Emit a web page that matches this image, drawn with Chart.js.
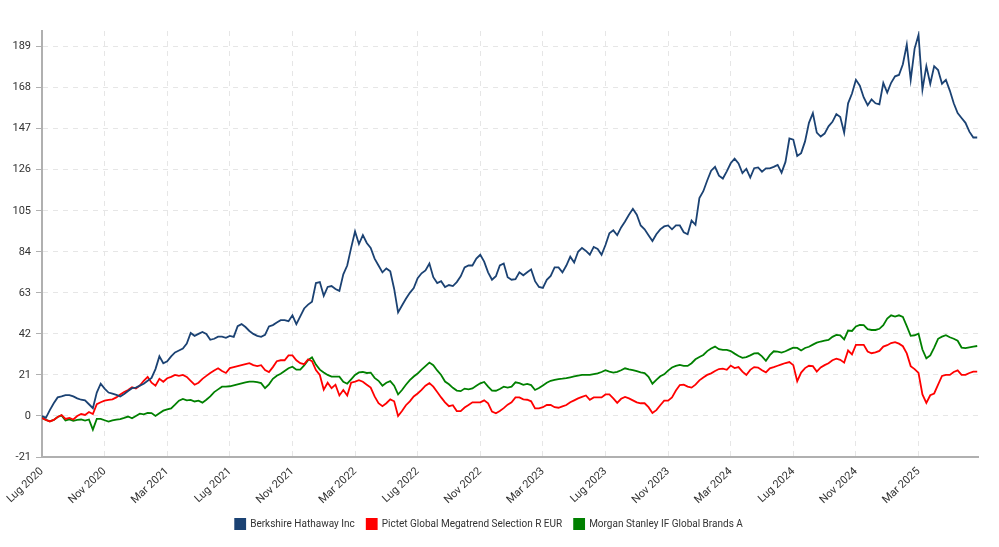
<!DOCTYPE html>
<html>
<head>
<meta charset="utf-8">
<script src="https://cdn.jsdelivr.net/npm/chart.js@4.4.1/dist/chart.umd.min.js"></script>
<style>
  html, body { margin: 0; padding: 0; background: #ffffff; }
  #wrap { width: 999px; height: 547px; position: relative; }
</style>
</head>
<body>
<div id="wrap"><canvas id="c" width="999" height="547"></canvas></div>
<script>
// Quarter-month sampling from Jul 2020 (index 0) to end of Jun 2025
const seriesNames = ['Berkshire Hathaway Inc', 'Pictet Global Megatrend Selection R EUR', 'Morgan Stanley IF Global Brands A'];
const seriesColors = ['#1b4273', '#ff0000', '#008000'];
const xTickLabels = ['Lug 2020','Nov 2020','Mar 2021','Lug 2021','Nov 2021','Mar 2022','Lug 2022','Nov 2022','Mar 2023','Lug 2023','Nov 2023','Mar 2024','Lug 2024','Nov 2024','Mar 2025'];
const yTicks = [-21, 0, 21, 42, 63, 84, 105, 126, 147, 168, 189];

const berkshire = [
  0, -1, 3, 6.5, 9.5, 10, 10.7, 10.7, 10, 9,
  8.3, 8, 6, 4, 12, 16.5, 14, 12, 11.4, 10.8,
  10, 11.2, 12.8, 14.2, 14.5, 15.5, 16.5, 18, 19.5, 24,
  30.5, 27, 28, 30.5, 32.5, 33.5, 34.5, 37, 42.5, 41,
  42, 43, 42, 39, 39.5, 40.6, 40.6, 40, 41, 40.5,
  46, 47, 45.5, 43.5, 42, 41, 40.5, 41.5, 45.8, 46.5,
  47.8, 49, 49, 48.5, 51.5, 47, 51, 55, 57, 58.5,
  68, 68.5, 61.5, 66, 66.5, 65, 64, 72.5, 77, 86,
  94.4, 88, 92.5, 88.5, 86, 80.5, 77, 73.5, 75.5, 74,
  65, 53, 56.5, 60, 63, 65.5, 70.5, 73, 74.5, 78,
  71, 68, 69, 66, 67, 66.5, 68.5, 71.5, 76, 77,
  77, 80.5, 82.5, 79, 73.5, 69.7, 71.5, 77, 78, 71,
  69.7, 70, 73.5, 72, 73.5, 75, 69, 66, 65.5, 69.7,
  71.7, 76, 76, 73.5, 77, 81.5, 78.5, 84, 86, 84.5,
  82.5, 86.5, 85.5, 82.5, 87.5, 93.5, 95, 92.5, 96.5, 99.5,
  103, 106, 103, 97.5, 95.5, 92.5, 89.5, 93, 95.5, 97,
  97.5, 95.5, 97.5, 97.5, 94, 93, 100, 97.8, 111.5, 115,
  120.5, 125.5, 127.5, 123, 121.5, 125.2, 129.3, 131.7, 129.2, 124.3,
  126.5, 122, 126.8, 127.2, 125, 126.7, 126.7, 127.5, 128.5, 124.5,
  130, 142, 141.4, 133, 134.5, 140.5, 150, 155, 145, 143,
  144.5, 148.2, 150.5, 154.5, 153, 145, 160, 165, 172, 169,
  163, 159, 162, 160, 159.5, 170.4, 165.5, 170.5, 173.8, 174.5,
  180, 190, 172, 188, 195, 167, 179, 170, 179, 177,
  170, 172, 166.5, 160, 155, 152.5, 150, 145.5, 142.5, 142.5
];
const pictet = [
  -1, -2, -2.8, -2, -0.5, 0.5, -1.5, -1, -1.8, 0,
  1, 0.5, 2, 1, 6, 7, 7.8, 8.2, 8.5, 9.5,
  11, 12.3, 13.3, 14.7, 14, 15.5, 18, 20, 17, 15.5,
  19, 17.5, 19.3, 20, 21, 20.5, 21, 20, 18, 16,
  17, 19, 20.5, 22, 23.3, 24.4, 23, 22, 24.5, 25,
  25.5, 26, 26.5, 27, 26, 25.5, 26, 23.5, 22.5, 25,
  28, 28.5, 28.5, 31, 31, 28.5, 27, 26.5, 29, 28,
  23.5, 21, 13.5, 17, 14.2, 16, 10.5, 13.3, 10.5, 17,
  17.6, 18.3, 17.5, 16, 14.5, 10, 6.5, 5, 6.5, 8.5,
  7.5, 0, 2.5, 5.5, 7.5, 10, 11.5, 13.3, 15.5, 16.8,
  15, 12.3, 9.5, 7, 5, 5.5, 2.5, 2.5, 4.3, 5.6,
  7, 7, 7, 8, 6.5, 2.2, 1.4, 2.5, 4, 5.8,
  7, 9.5, 9.5, 8.5, 8.3, 7.5, 3.9, 3.9, 4.5, 5.6,
  5.6, 4.5, 4.2, 4.9, 5.6, 7, 8, 9, 9.8, 10.5,
  8.3, 9.5, 9.5, 9.5, 11, 11, 9, 6.7, 8.8, 9.7,
  9, 8, 7, 6.5, 6.5, 4.5, 1.5, 3, 5.5, 7.8,
  7.8, 9.5, 13, 15.8, 16, 15, 14.5, 16, 18.2, 19.7,
  21, 21.8, 23, 24, 24.2, 23.6, 25.8, 24.5, 25, 22.7,
  21, 23.6, 25, 24.8, 23.4, 22.3, 24.4, 25, 25.7, 26.4,
  27.1, 27.6, 26, 17.8, 22.2, 24.5, 25.7, 25.5, 22.7, 24.8,
  26, 27, 28.5, 29.3, 28.7, 27.3, 33.5, 31.5, 36.4, 36.4,
  36.4, 33, 32.1, 32.5, 33.3, 35.5, 36.2, 37.3, 37.8, 37,
  35.7, 32, 25.5, 24, 22, 11, 6.7, 10.6, 11.5, 16,
  20.5, 21, 21, 22.5, 23.3, 21, 21, 22, 22.7, 22.7
];
const morganStanley = [
  -1, -2, -2.7, -2, -0.5, 0.3, -2.3, -1.8, -2.5, -2,
  -1.8, -2.4, -1.8, -7, -1.5, -1.5, -2.2, -2.9, -2.3, -1.9,
  -1.6, -1, -0.3, -1.2, 0, 1.2, 0.8, 1.6, 1.5, 0,
  1.4, 2.7, 3.4, 3.9, 5.8, 7.8, 8.7, 8, 8.2, 7.4,
  7.8, 6.8, 8.3, 10, 12.2, 13.6, 15, 15, 15.2, 15.7,
  16.2, 16.7, 17.2, 17.6, 17.6, 17.3, 16.8, 14.2, 16.2, 19,
  20.6, 21.6, 23, 24.4, 25.2, 23.7, 23.7, 25.9, 28.5, 30,
  26.3, 23.7, 22.3, 21, 20.1, 20.1, 20.1, 17.5, 16.5, 18.7,
  21, 22.3, 22.5, 22, 22.2, 19.5, 18, 15.5, 17, 17.8,
  15.5, 11, 13.3, 16, 18.3, 20.2, 21.7, 23.7, 25.5, 27.3,
  26, 23.3, 21, 17.6, 16.2, 14.4, 13, 12.7, 14, 13.6,
  14.1, 15.4, 16.7, 17.4, 15, 13, 12.9, 13.8, 15, 14.5,
  15, 17.2, 16.8, 15.9, 16.4, 15.8, 13.3, 14.3, 15.6, 17,
  18, 18.5, 18.9, 19.1, 19.4, 19.8, 20.2, 20.6, 21, 21,
  21, 21.4, 21.8, 22.5, 23.4, 22.7, 22.2, 22.6, 23.4, 24.4,
  23.9, 23.5, 22.9, 22.3, 21.9, 20, 16.5, 18.5, 20.3, 21.3,
  23.2, 24.8, 25.6, 26.1, 25.6, 25.6, 27, 29, 30.2, 31.2,
  33.2, 34.5, 35.5, 34.2, 33.8, 33.8, 33.2, 31.9, 30.7, 29.7,
  30.1, 31, 32, 32.1, 30.5, 28.2, 31.1, 33.1, 32.9, 32.4,
  33.1, 34.1, 35, 34.8, 33.5, 34.8, 35.4, 36.5, 37.5, 38.1,
  38.5, 38.9, 40.5, 41.5, 41.3, 39.2, 43.7, 43.5, 45.8, 46.6,
  46.5, 44.4, 44, 44, 44.6, 46.5, 49.8, 51.5, 50.9, 51.5,
  50.7, 46, 41, 41.3, 42.1, 34, 29.5, 31, 35, 39.5,
  40.6, 41.3, 40.3, 39.5, 38.5, 35, 34.7, 35.1, 35.5, 35.8
];

const STEP = 0.25; // months between samples
function toPoints(arr) { return arr.map((v, i) => ({ x: i * STEP, y: v })); }

const allSeries = [berkshire, pictet, morganStanley];
const datasets = allSeries.map((arr, k) => ({
  label: seriesNames[k],
  data: toPoints(arr),
  borderColor: seriesColors[k],
  backgroundColor: seriesColors[k],
  borderWidth: 1.8,
  pointRadius: 0,
  tension: 0,
  fill: false
}));

const FONT = 'Roboto, "Liberation Sans", Arial, sans-serif';

new Chart(document.getElementById('c'), {
  type: 'line',
  data: { datasets },
  options: {
    responsive: false,
    animation: false,
    events: [],
    layout: { padding: { top: 31, right: 21, bottom: 8, left: 0 } },
    plugins: {
      tooltip: { enabled: false },
      legend: {
        position: 'bottom',
        labels: {
          font: { family: FONT, size: 10 },
          color: '#333333',
          boxWidth: 10,
          boxHeight: 10,
          padding: 12
        }
      }
    },
    scales: {
      x: {
        type: 'linear',
        min: 0,
        max: 59.8,
        border: { display: true, color: '#b0b0b0', width: 2, dash: [5, 5] },
        grid: { color: '#e6e6e6', lineWidth: 1, drawTicks: false, tickLength: 6 },
        ticks: {
          stepSize: 4,
          includeBounds: false,
          autoSkip: false,
          minRotation: 43,
          maxRotation: 43,
          padding: 8,
          color: '#333333',
          font: { family: FONT, size: 11 },
          callback: (v) => {
            const idx = Math.round(v / 4);
            return (Math.abs(v - idx * 4) < 1e-6 && idx < xTickLabels.length) ? xTickLabels[idx] : '';
          }
        },
        afterFit: (s) => { s.height = 50; }
      },
      y: {
        type: 'linear',
        min: -21,
        max: 197,
        border: { display: true, color: '#b0b0b0', width: 2, dash: [5, 5] },
        grid: { color: '#e6e6e6', lineWidth: 1, tickColor: '#b0b0b0', tickLength: 6, tickBorderDash: [] },
        afterBuildTicks: (s) => { s.ticks = yTicks.map(v => ({ value: v })); },
        ticks: {
          color: '#333333',
          padding: 5,
          font: { family: FONT, size: 11 },
          callback: (v) => String(v)
        },
        afterFit: (s) => { s.width = 42; }
      }
    }
  }
});
</script>
</body>
</html>
